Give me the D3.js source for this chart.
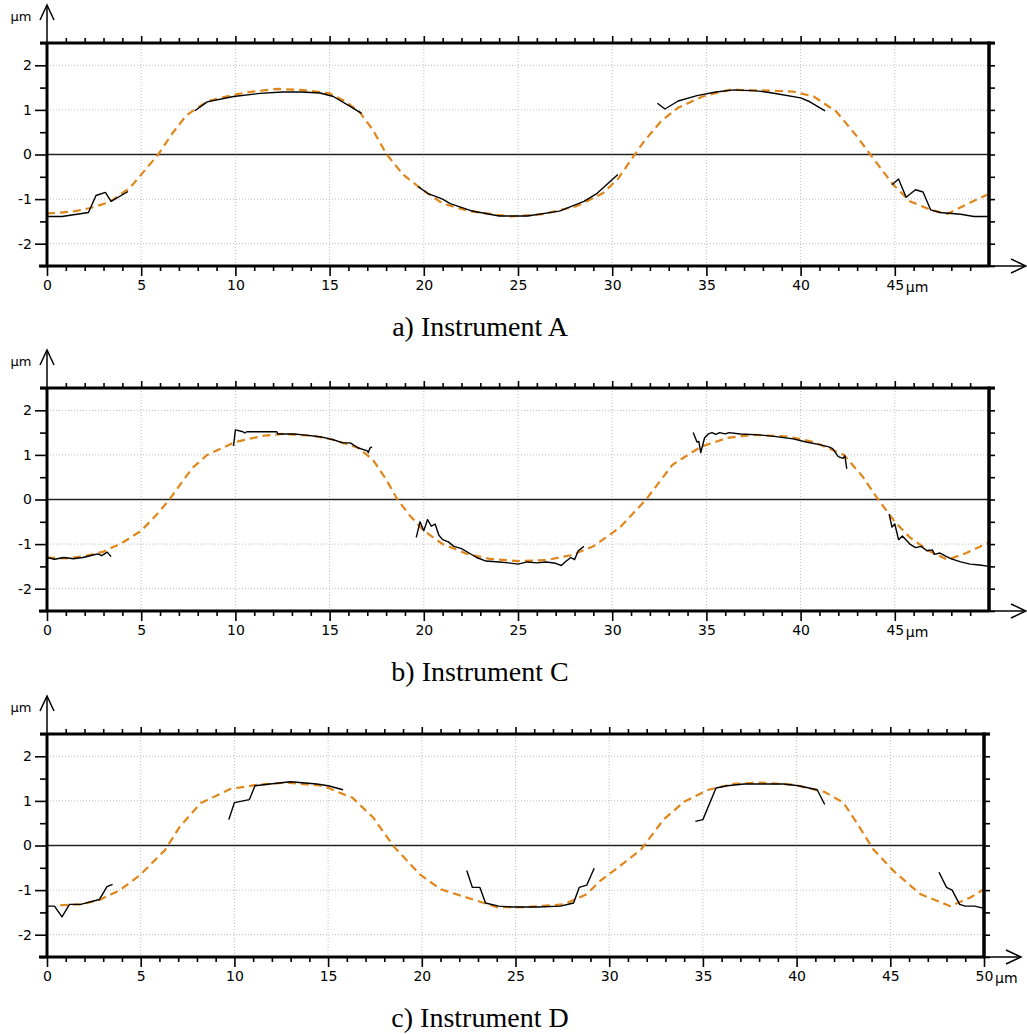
<!DOCTYPE html>
<html><head><meta charset="utf-8">
<script src="https://cdn.jsdelivr.net/npm/d3@7"></script>
<style>
html,body{margin:0;padding:0;background:#fff;}
svg{display:block;}
</style>
</head><body>
<svg id="chart" width="1027" height="1034"></svg>
<script>
// ---------- data ----------
const titles = ["a) Instrument A", "b) Instrument C", "c) Instrument D"];
const yMajorTicks = [-2, -1, 0, 1, 2];
const yMinorTicks = [-2.5, -1.5, -0.5, 0.5, 1.5, 2.5];
const xMajorTicks = [0, 5, 10, 15, 20, 25, 30, 35, 40, 45, 50];
const gridX = [5, 10, 15, 20, 25, 30, 35, 40, 45];
const gridY = [-2, -1, 1, 2];

// reference (orange dashed) profiles
const refA = [[0,-1.32],[0.5,-1.31],[1.5,-1.27],[2.3,-1.2],[3.3,-1.07],[4.4,-0.75],[5.1,-0.4],[5.9,0],[6.7,0.5],[7.4,0.88],[8.5,1.19],[9.9,1.34],[10.9,1.41],[12.2,1.47],[13.5,1.45],[15,1.37],[15.8,1.2],[16.6,0.95],[17.3,0.55],[18.0,0.02],[18.9,-0.45],[19.8,-0.75],[21.0,-1.1],[22.4,-1.27],[24.6,-1.39],[26.3,-1.34],[28.1,-1.16],[29.5,-0.87],[30.3,-0.55],[31.0,-0.12],[31.7,0.3],[32.6,0.75],[33.5,1.05],[34.8,1.3],[36.2,1.45],[37.8,1.44],[39.6,1.41],[40.7,1.3],[41.9,0.96],[43.0,0.4],[43.7,0.0],[44.9,-0.67],[45.8,-1.05],[46.9,-1.24],[47.8,-1.33],[48.8,-1.12],[49.9,-0.9]];
const refB = [[0,-1.3],[1,-1.32],[2,-1.27],[3,-1.17],[4,-0.97],[5,-0.7],[5.8,-0.35],[6.5,0],[7.06,0.33],[7.7,0.7],[8.5,1.0],[10,1.29],[11.5,1.43],[12.5,1.47],[14.1,1.43],[15.2,1.34],[16.5,1.16],[17.3,0.89],[18,0.45],[18.6,0],[19.3,-0.38],[20,-0.7],[21,-1.0],[22.3,-1.22],[23.5,-1.33],[25,-1.38],[26.5,-1.36],[27.8,-1.25],[29,-1.05],[30.4,-0.63],[31.8,0],[33.2,0.78],[34.7,1.18],[36.1,1.38],[37.5,1.45],[39.3,1.41],[40.7,1.29],[42.3,1.0],[43.3,0.51],[44.05,0.04],[45,-0.5],[45.8,-0.85],[46.8,-1.15],[47.8,-1.35],[48.8,-1.2],[50,-0.96]];
const refC = [[0.7,-1.34],[1.8,-1.32],[2.8,-1.22],[3.9,-1.0],[5,-0.65],[6.3,-0.1],[7.1,0.43],[8.2,0.95],[9.8,1.27],[11.2,1.36],[12.8,1.41],[14.7,1.34],[16.3,1.07],[17.4,0.63],[18.5,-0.02],[19.9,-0.65],[21,-0.98],[22.2,-1.14],[24,-1.38],[25.6,-1.38],[27.6,-1.32],[28.8,-1.09],[29.5,-0.8],[30.6,-0.45],[31.7,-0.09],[32.9,0.58],[34,0.98],[35.3,1.25],[36.6,1.38],[38.1,1.41],[39.9,1.36],[41.5,1.2],[42.5,0.96],[43.3,0.45],[44.1,-0.09],[45.2,-0.58],[46.6,-1.09],[48.2,-1.36],[49.3,-1.16],[50,-0.98]];

// measured (black) segments
const measA = [
  [[0,-1.39],[0.8,-1.39],[2.2,-1.3],[2.6,-0.92],[3.1,-0.85],[3.4,-1.05],[4.3,-0.83]],
  [[7.85,0.98],[8.5,1.18],[9.9,1.3],[11.3,1.37],[12.5,1.4],[13.5,1.4],[14.5,1.38],[15.2,1.3],[16,1.1],[16.7,0.92]],
  [[19.7,-0.72],[20.2,-0.87],[21.0,-1.0],[21.4,-1.1],[22.5,-1.26],[24.0,-1.38],[25.5,-1.38],[27.2,-1.27],[28.5,-1.05],[29.2,-0.87],[30.3,-0.45]],
  [[32.4,1.15],[32.8,1.02],[33.5,1.2],[34.5,1.32],[35.5,1.4],[36.5,1.45],[37.8,1.42],[38.5,1.38],[40.0,1.27],[40.4,1.2],[41.3,0.98]],
  [[44.85,-0.68],[45.2,-0.55],[45.6,-0.96],[46.1,-0.79],[46.5,-0.84],[46.9,-1.24],[47.4,-1.3],[48.5,-1.34],[49.2,-1.39],[50,-1.39]]
];
const measB = [
  [[0,-1.3],[0.4,-1.34],[0.9,-1.3],[1.4,-1.33],[1.9,-1.3],[2.4,-1.25],[2.7,-1.22],[2.9,-1.26],[3.2,-1.18],[3.4,-1.28]],
  [[9.9,1.2],[10.0,1.56],[10.4,1.52],[10.5,1.49],[10.6,1.52],[12.2,1.52],[12.25,1.47],[13.1,1.47],[13.6,1.45],[14.6,1.4],[15.2,1.34],[15.7,1.27],[16.1,1.27],[16.5,1.16],[17.0,1.09],[17.05,1.05],[17.15,1.16],[17.25,1.18]],
  [[19.6,-0.85],[19.8,-0.5],[20.0,-0.7],[20.2,-0.45],[20.4,-0.6],[20.6,-0.55],[20.8,-0.8],[21.0,-0.9],[21.3,-0.95],[21.6,-1.05],[22.0,-1.1],[22.4,-1.2],[22.8,-1.3],[23.3,-1.38],[24.0,-1.4],[24.5,-1.42],[25.0,-1.45],[25.5,-1.4],[26.0,-1.42],[26.5,-1.4],[27.0,-1.43],[27.3,-1.48],[27.5,-1.4],[27.8,-1.3],[28.0,-1.35],[28.2,-1.15],[28.5,-1.05]],
  [[34.3,1.5],[34.5,1.29],[34.6,1.3],[34.7,1.05],[34.9,1.38],[35.1,1.47],[35.3,1.5],[35.5,1.46],[35.7,1.5],[36.0,1.47],[36.2,1.5],[36.8,1.47],[37.8,1.45],[38.7,1.41],[39.6,1.36],[40.3,1.29],[41.0,1.23],[41.5,1.18],[41.7,1.14],[42.0,0.96],[42.25,0.92],[42.35,0.98],[42.45,0.69]],
  [[44.7,-0.33],[44.85,-0.62],[45.0,-0.55],[45.2,-0.9],[45.4,-0.82],[45.8,-1.0],[46.1,-1.08],[46.4,-1.05],[46.7,-1.15],[47.0,-1.13],[47.1,-1.23],[47.4,-1.2],[47.7,-1.27],[48.0,-1.33],[48.5,-1.4],[49.0,-1.45],[49.5,-1.47],[50,-1.5]]
];
const measC = [
  [[0,-1.36],[0.4,-1.36],[0.8,-1.6],[1.2,-1.32],[1.8,-1.32],[2.8,-1.21],[3.2,-0.92],[3.5,-0.87]],
  [[9.7,0.58],[10.0,0.96],[10.8,1.03],[11.1,1.34],[11.9,1.38],[13.0,1.43],[14.4,1.38],[15.0,1.34],[15.8,1.25]],
  [[22.4,-0.56],[22.7,-0.94],[23.1,-0.94],[23.4,-1.29],[24.1,-1.36],[24.9,-1.38],[26.2,-1.38],[27.4,-1.36],[28.1,-1.29],[28.4,-0.94],[28.8,-0.89],[29.2,-0.51]],
  [[34.6,0.54],[35.0,0.58],[35.7,1.29],[36.3,1.34],[37.2,1.38],[39.3,1.38],[40.1,1.34],[41.1,1.25],[41.5,0.92]],
  [[47.6,-0.6],[48.0,-0.94],[48.3,-1.0],[48.7,-1.32],[49.0,-1.36],[49.5,-1.36],[50,-1.41]]
];

// ---------- drawing ----------
const svg = d3.select("#chart");
const tickFont = "'DejaVu Sans', 'Liberation Sans', sans-serif";
const panels = [
  {top: 43,  x0: 47, x1: 989, ref: refA, meas: measA, lastLabel: 45, title: titles[0]},
  {top: 388, x0: 47, x1: 989, ref: refB, meas: measB, lastLabel: 45, title: titles[1]},
  {top: 734, x0: 47, x1: 984, ref: refC, meas: measC, lastLabel: 50, title: titles[2]}
];
const H = 223;

panels.forEach(p => {
  const T = p.top, B = T + H;
  const x = d3.scaleLinear().domain([0, 50]).range([p.x0, p.x1]);
  const y = d3.scaleLinear().domain([-2.5, 2.5]).range([B, T]);
  const g = svg.append("g");

  // grid
  g.selectAll(".gx").data(gridX).enter().append("line")
    .attr("x1", d => x(d)).attr("x2", d => x(d)).attr("y1", T).attr("y2", B)
    .attr("stroke", "#bdbdbd").attr("stroke-width", 1).attr("stroke-dasharray", "1,2");
  g.selectAll(".gy").data(gridY).enter().append("line")
    .attr("x1", p.x0).attr("x2", p.x1).attr("y1", d => y(d)).attr("y2", d => y(d))
    .attr("stroke", "#bdbdbd").attr("stroke-width", 1).attr("stroke-dasharray", "1,2");

  // zero line
  g.append("line").attr("x1", p.x0).attr("x2", p.x1).attr("y1", y(0)).attr("y2", y(0))
    .attr("stroke", "#222").attr("stroke-width", 1.6);

  const line = d3.line().x(d => x(d[0])).y(d => y(d[1]));

  // reference dashed
  g.append("path").attr("d", line(p.ref)).attr("fill", "none")
    .attr("stroke", "#e0861a").attr("stroke-width", 2.2).attr("stroke-dasharray", "8,5");

  // measured
  p.meas.forEach(seg => {
    g.append("path").attr("d", line(seg)).attr("fill", "none")
      .attr("stroke", "#000").attr("stroke-width", 1.4).attr("stroke-linejoin", "round");
  });

  // axes via d3 axes
  const lastTick = p.lastLabel === 50 ? 50 : 49;
  const xMinor = d3.range(0, lastTick + 1).filter(v => v % 5 !== 0);
  const xMaj = xMajorTicks.filter(v => v <= lastTick);

  const bMaj = g.append("g").attr("transform", `translate(0,${B})`)
    .call(d3.axisBottom(x).tickValues(xMaj).tickSize(10).tickPadding(4).tickFormat(d => d));
  const bMin = g.append("g").attr("transform", `translate(0,${B})`)
    .call(d3.axisBottom(x).tickValues(xMinor).tickSize(5).tickFormat(""));
  const tMaj = g.append("g").attr("transform", `translate(0,${T})`)
    .call(d3.axisTop(x).tickValues(xMaj.filter(v => v > 0 && v < 50)).tickSize(7).tickFormat(""));
  const tMin = g.append("g").attr("transform", `translate(0,${T})`)
    .call(d3.axisTop(x).tickValues(d3.range(1, 50).filter(v => v % 5 !== 0)).tickSize(5).tickFormat(""));
  const lMaj = g.append("g").attr("transform", `translate(${p.x0},0)`)
    .call(d3.axisLeft(y).tickValues(yMajorTicks).tickSize(12).tickPadding(3).tickFormat(d => d));
  const lMin = g.append("g").attr("transform", `translate(${p.x0},0)`)
    .call(d3.axisLeft(y).tickValues(yMinorTicks).tickSize(7).tickFormat(""));
  const rAx = g.append("g").attr("transform", `translate(${p.x1},0)`)
    .call(d3.axisRight(y).tickValues(yMajorTicks.concat(yMinorTicks)).tickSize(6).tickFormat(""));

  [bMaj, bMin, tMaj, tMin, lMaj, lMin, rAx].forEach(a => {
    a.select(".domain").remove();
    a.selectAll(".tick line").attr("stroke", "#000").attr("stroke-width", 1.6);
    a.selectAll(".tick text").attr("fill", "#000").attr("font-family", tickFont).attr("font-size", 14);
  });

  // frame lines
  g.append("line").attr("x1", p.x0 - 7).attr("x2", p.x1 + 6).attr("y1", T).attr("y2", T)
    .attr("stroke", "#000").attr("stroke-width", 3);
  g.append("line").attr("x1", p.x0 - 8).attr("x2", p.x1).attr("y1", B).attr("y2", B)
    .attr("stroke", "#000").attr("stroke-width", 3);
  g.append("line").attr("x1", p.x0).attr("x2", p.x0).attr("y1", T).attr("y2", B)
    .attr("stroke", "#000").attr("stroke-width", 3);
  g.append("line").attr("x1", p.x1).attr("x2", p.x1).attr("y1", T - 1.5).attr("y2", B)
    .attr("stroke", "#000").attr("stroke-width", 3.5);

  // y arrow
  g.append("line").attr("x1", p.x0).attr("x2", p.x0).attr("y1", T).attr("y2", T - 37)
    .attr("stroke", "#000").attr("stroke-width", 1.5);
  g.append("path").attr("d", `M${p.x0 - 7},${T - 23}L${p.x0},${T - 38}L${p.x0 + 7},${T - 23}`)
    .attr("fill", "none").attr("stroke", "#000").attr("stroke-width", 1.5);
  // x arrow
  const ax = p.x1 + 37;
  g.append("line").attr("x1", p.x1).attr("x2", ax).attr("y1", B).attr("y2", B)
    .attr("stroke", "#000").attr("stroke-width", 1.5);
  g.append("path").attr("d", `M${ax - 15},${B - 7}L${ax},${B}L${ax - 15},${B + 7}`)
    .attr("fill", "none").attr("stroke", "#000").attr("stroke-width", 1.5);

  // unit labels
  g.append("text").attr("x", 21).attr("y", T - 22).attr("text-anchor", "middle")
    .attr("font-family", tickFont).attr("font-size", 13).text("µm");
  g.append("text").attr("x", x(p.lastLabel) + 11).attr("y", B + 26)
    .attr("font-family", tickFont).attr("font-size", 14).text("µm");

  // title
  g.append("text").attr("x", 480).attr("y", B + 70).attr("text-anchor", "middle")
    .attr("font-family", "'Liberation Serif', 'Times New Roman', serif").attr("font-size", 28)
    .text(p.title);
});
</script>
</body></html>
